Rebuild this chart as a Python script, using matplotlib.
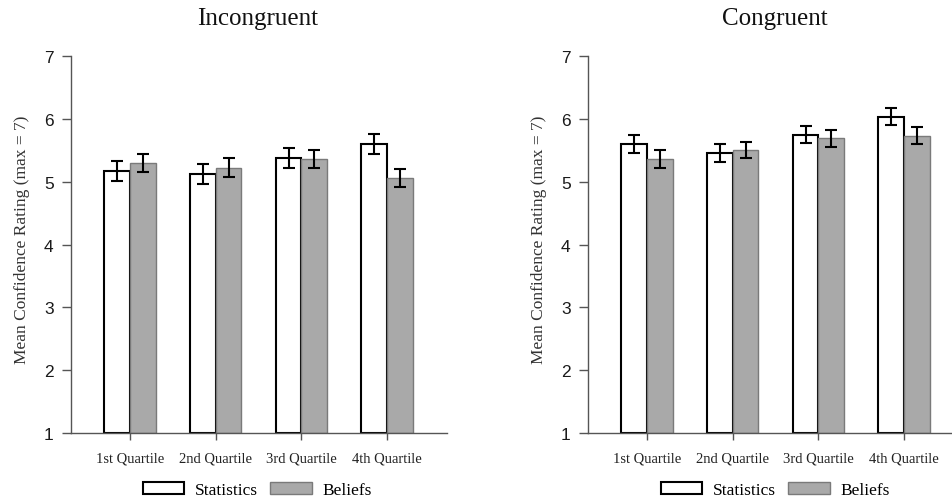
import matplotlib
matplotlib.use("Agg")
import matplotlib.pyplot as plt
import numpy as np
from matplotlib.patches import Patch

categories = ["1st Quartile", "2nd Quartile", "3rd Quartile", "4th Quartile"]
panels = ["Incongruent", "Congruent"]
series = ["Statistics", "Beliefs"]

incong_stats = [5.17, 5.12, 5.37, 5.60]
incong_stats_err = [0.16, 0.16, 0.16, 0.16]
incong_beliefs = [5.30, 5.22, 5.36, 5.06]
incong_beliefs_err = [0.145, 0.15, 0.145, 0.145]

cong_stats = [5.60, 5.46, 5.75, 6.03]
cong_stats_err = [0.14, 0.14, 0.135, 0.135]
cong_beliefs = [5.36, 5.50, 5.69, 5.73]
cong_beliefs_err = [0.14, 0.13, 0.135, 0.135]

yticks = [1, 2, 3, 4, 5, 6, 7]

W, H = 952, 502
fig = plt.figure(figsize=(W / 100, H / 100), dpi=100)

serif = "Liberation Serif"
sans = "Liberation Sans"
grey = "#a9a9a9"
axis_col = "#555555"

def make_panel(left_px, data, title, title_x):
    ax = fig.add_axes([left_px / W, 1 - 434 / H, 376 / W, (434 - 57) / H])
    x = np.arange(len(categories))
    w = 0.3
    s, se, b, be = data
    ax.bar(x - w / 2, np.array(s) - 1, w, bottom=1, color="white",
           edgecolor="black", linewidth=1.5, zorder=2)
    ax.bar(x + w / 2, np.array(b) - 1, w, bottom=1, color=grey,
           edgecolor="#7a7a7a", linewidth=1.0, zorder=2)
    ax.errorbar(x - w / 2, s, yerr=se, fmt="none", ecolor="black",
                elinewidth=1.5, capsize=4.5, capthick=1.5, zorder=3)
    ax.errorbar(x + w / 2, b, yerr=be, fmt="none", ecolor="black",
                elinewidth=1.5, capsize=4.5, capthick=1.5, zorder=3)
    ax.set_xlim(-0.69, 3.70)
    ax.set_ylim(1, 7)
    ax.set_yticks(yticks)
    ax.set_yticklabels([str(t) for t in yticks], fontfamily=sans, fontsize=12.5)
    ax.set_xticks(x)
    ax.set_xticklabels(categories, fontfamily=serif, fontsize=10.5)
    for sp in ["top", "right"]:
        ax.spines[sp].set_visible(False)
    for sp in ["left", "bottom"]:
        ax.spines[sp].set_color(axis_col)
        ax.spines[sp].set_linewidth(1.0)
    ax.tick_params(axis="y", direction="out", length=6.5, width=1.0,
                   color=axis_col, pad=6, labelcolor="#1a1a1a")
    ax.tick_params(axis="x", direction="out", length=5, width=1.0,
                   color=axis_col, pad=8, labelcolor="#222222")
    ax.set_ylabel("Mean Confidence Rating (max = 7)", fontfamily=serif,
                  fontsize=12.5, color="#333333")
    ax.yaxis.set_label_coords(-0.11, 0.515)
    fig.text(title_x / W, 1 - 25 / H, title, fontfamily=serif, fontsize=18,
             ha="center", va="baseline", color="#111111")
    handles = [Patch(facecolor="white", edgecolor="black", linewidth=1.5),
               Patch(facecolor=grey, edgecolor="#7a7a7a", linewidth=1.0)]
    return ax, handles

ax1, h = make_panel(71, (incong_stats, incong_stats_err, incong_beliefs, incong_beliefs_err),
                    panels[0], 258)
ax2, _ = make_panel(588, (cong_stats, cong_stats_err, cong_beliefs, cong_beliefs_err),
                    panels[1], 775)

for cx in (257, 775):
    fig.legend(h, series, loc="center", bbox_to_anchor=(cx / W, 1 - 491 / H),
               ncol=2, frameon=False, prop={"family": serif, "size": 12.5},
               handlelength=2.4, handleheight=0.7, handletextpad=0.6,
               columnspacing=0.7, borderpad=0.1)

fig.savefig("out.png", dpi=100)
